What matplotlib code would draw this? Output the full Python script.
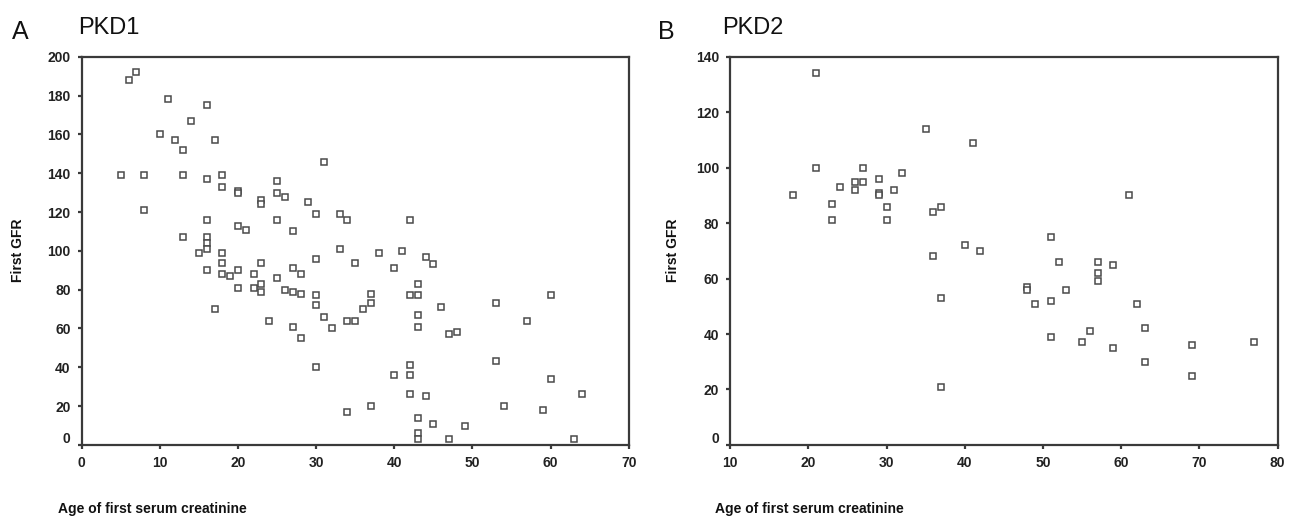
import numpy as np
import matplotlib.pyplot as plt
import matplotlib.transforms as mtransforms

plt.rcParams['font.family'] = ['Liberation Sans', 'DejaVu Sans']

# PKD1: age of first serum creatinine vs first GFR
pkd1_age = [6, 7, 11, 16, 14, 10, 12, 17, 13,
            5, 8, 13, 16, 18, 18, 20, 20, 23, 23, 25, 25, 26, 29, 30, 31, 33, 34,
            8, 16, 20, 21, 25, 27, 13, 16, 16, 16, 33,
            15, 18, 18, 16, 18, 19, 20, 22, 23, 20, 22, 23, 23, 25, 26, 27, 28, 27, 28, 30, 35,
            17, 30, 30, 31, 32, 34, 35, 24, 27, 28, 30, 34,
            38, 41, 44, 45, 40, 43, 42, 43, 37, 37, 36, 43, 43, 46, 47, 48, 53, 57, 60,
            53, 60, 40, 42, 42, 42, 44, 64, 37, 54, 59, 43, 45, 49, 43, 43, 47, 63, 42]
pkd1_gfr = [188, 192, 178, 175, 167, 160, 157, 157, 152,
            139, 139, 139, 137, 139, 133, 131, 130, 126, 124, 136, 130, 128, 125, 119, 146, 119, 116,
            121, 116, 113, 111, 116, 110, 107, 107, 104, 101, 101,
            99, 99, 94, 90, 88, 87, 90, 88, 94, 81, 81, 83, 79, 86, 80, 79, 78, 91, 88, 96, 94,
            70, 77, 72, 66, 60, 64, 64, 64, 61, 55, 40, 17,
            99, 100, 97, 93, 91, 83, 77, 77, 78, 73, 70, 67, 61, 71, 57, 58, 73, 64, 77,
            43, 34, 36, 41, 36, 26, 25, 26, 20, 20, 18, 14, 11, 10, 6, 3, 3, 3, 116]

# PKD2
pkd2_age = [21, 21, 18, 23, 23, 24, 26, 26, 27, 27, 29, 29, 29, 30, 30, 31, 32, 35, 36, 37,
            41, 40, 36, 42, 37, 37, 61, 51, 52, 57, 59, 57, 57, 48, 48, 53, 49, 51, 62, 63,
            56, 51, 55, 59, 69, 77, 63, 69]
pkd2_gfr = [134, 100, 90, 87, 81, 93, 95, 92, 100, 95, 96, 91, 90, 86, 81, 92, 98, 114, 84, 86,
            109, 72, 68, 70, 53, 21, 90, 75, 66, 66, 65, 62, 59, 57, 56, 56, 51, 52, 51, 42,
            41, 39, 37, 35, 36, 37, 30, 25]

panels = [
    dict(letter="A", title="PKD1", x=pkd1_age, y=pkd1_gfr,
         xlim=(0, 70), ylim=(0, 200), xticks=np.arange(0, 71, 10), yticks=np.arange(0, 201, 20),
         rect=[0.063, 0.146, 0.4222, 0.745], letter_x=0.009, title_x=0.060,
         ylab_x=0.014, xlab_x=0.045),
    dict(letter="B", title="PKD2", x=pkd2_age, y=pkd2_gfr,
         xlim=(10, 80), ylim=(0, 140), xticks=np.arange(10, 81, 10), yticks=np.arange(0, 141, 20),
         rect=[0.5633, 0.146, 0.4226, 0.745], letter_x=0.508, title_x=0.557,
         ylab_x=0.519, xlab_x=0.552),
]

fig = plt.figure(figsize=(12.96, 5.21), dpi=100)
edge = "#3a3a3a"
for p in panels:
    ax = fig.add_axes(p["rect"])
    ax.plot(p["x"], p["y"], ls="none", marker="s", ms=4.6, mfc="white",
            mec="#4a4a4a", mew=1.1)
    ax.set_xlim(*p["xlim"])
    ax.set_ylim(*p["ylim"])
    ax.set_xticks(p["xticks"])
    ax.set_yticks(p["yticks"])
    for s in ax.spines.values():
        s.set_linewidth(1.6)
        s.set_color(edge)
    ax.tick_params(direction="out", length=3, width=1.6, color=edge,
                   labelsize=10, pad=5)
    for lab in ax.get_xticklabels() + ax.get_yticklabels():
        lab.set_fontweight("bold")
        lab.set_color("#222222")
    # SPSS-style: the zero label on the y axis sits a little above its tick
    ylabs = ax.get_yticklabels()
    ylabs[0].set_transform(ylabs[0].get_transform() +
                           mtransforms.ScaledTranslation(0, 7 / 100, fig.dpi_scale_trans))
    fig.text(p["letter_x"], 0.925, p["letter"], fontsize=18, va="baseline", color="#111111")
    fig.text(p["title_x"], 0.935, p["title"], fontsize=17, va="baseline", color="#111111")
    fig.text(p["ylab_x"], 0.52, "First GFR", rotation=90, fontsize=10, fontweight="bold",
             va="center", ha="center", color="#111111")
    fig.text(p["xlab_x"], 0.01, "Age of first serum creatinine", fontsize=10,
             fontweight="bold", va="bottom", ha="left", color="#111111")

fig.savefig("out.png", dpi=100)
